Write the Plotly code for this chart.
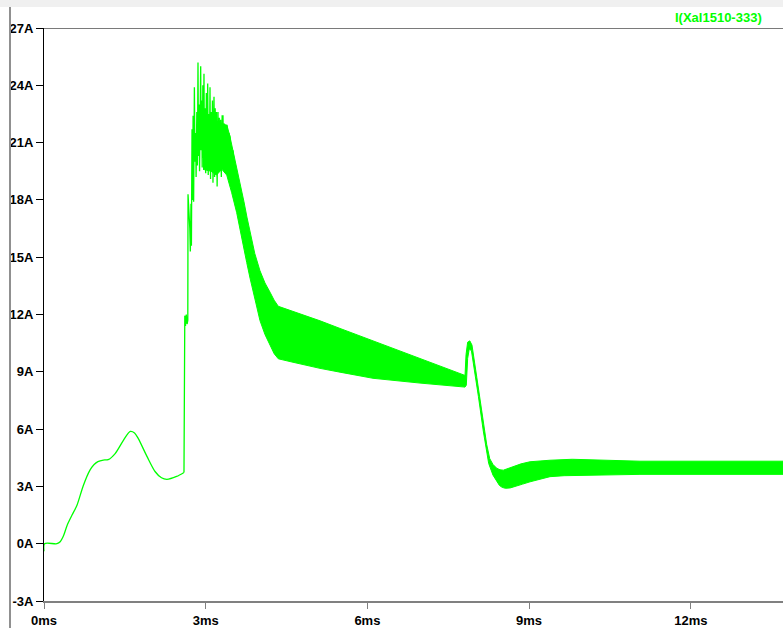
import plotly.graph_objects as go

GREEN = "#00ff00"

# Start-up current: single smooth trace up to the first switching event (ms, A)
t_start = [0.0, 0.01, 0.24, 0.30, 0.36, 0.43, 0.52, 0.61, 0.73, 0.85, 0.93, 1.0,
           1.10, 1.19, 1.32, 1.47, 1.6, 1.68, 1.75, 1.91, 2.06, 2.18, 2.28, 2.46,
           2.597]
i_start = [-0.4, 0.0, 0.0, 0.1, 0.4, 0.97, 1.5, 2.0, 3.05, 3.84, 4.15, 4.3,
           4.38, 4.4, 4.72, 5.4, 5.88, 5.8, 5.5, 4.57, 3.78, 3.45, 3.37, 3.52,
           3.73]

# Inrush spikes and ringing after the step (ms, A)
t_ring = [2.597, 2.600, 2.612, 2.625, 2.640, 2.655, 2.668, 2.672, 2.690, 2.705, 2.715,
          2.727, 2.735, 2.746, 2.757, 2.766, 2.776, 2.790, 2.800, 2.812, 2.822,
          2.835, 2.846, 2.857, 2.866, 2.876, 2.886, 2.897, 2.907, 2.915, 2.925,
          2.935, 2.947, 2.957, 2.968, 2.978, 2.990, 3.000, 3.012, 3.024, 3.037,
          3.047, 3.058, 3.068, 3.080, 3.090, 3.102, 3.112, 3.125, 3.135, 3.145,
          3.154, 3.165, 3.176, 3.188, 3.200, 3.212, 3.228, 3.240, 3.252, 3.265,
          3.278, 3.290, 3.305, 3.321, 3.333, 3.345, 3.360, 3.375, 3.395, 3.410,
          3.430, 3.451, 3.470, 3.506, 3.540, 3.581]
i_ring = [3.73, 9.85, 11.94, 11.4, 12.0, 11.5, 11.7, 18.3, 17.5, 16.5, 15.3,
          17.8, 15.6, 21.7, 18.0, 22.4, 17.9, 23.9, 20.0, 21.5, 19.2,
          22.6, 19.8, 25.2, 20.3, 23.0, 19.5, 24.3, 25.0, 20.6, 23.2,
          19.7, 24.0, 20.2, 24.6, 19.6, 22.8, 19.4, 23.6, 20.0, 24.1,
          19.3, 22.5, 19.9, 23.9, 19.1, 22.6, 19.6, 23.2, 18.9, 22.0,
          23.4, 19.2, 22.8, 19.7, 22.6, 18.7, 22.6, 19.5, 22.3, 20.0,
          22.2, 19.2, 22.4, 22.4, 19.8, 22.0, 20.3, 21.9, 21.9, 20.2,
          21.5, 21.3, 20.0, 20.6, 19.6, 19.2]

# Ripple band: upper and lower envelope of the switching ripple (ms, A)
t_upper = [2.95, 3.10, 3.20, 3.30, 3.395, 3.451, 3.506, 3.56, 3.605, 3.66, 3.71,
           3.765, 3.822, 3.91, 4.007, 4.10, 4.193, 4.27, 4.347, 4.48, 4.62, 5.121,
           5.492, 6.104, 6.976, 7.811, 7.83, 7.86, 7.90, 7.94, 8.03, 8.12, 8.213,
           8.27, 8.33, 8.40, 8.46, 8.522, 8.60, 8.70, 8.85, 9.017, 9.20, 9.388,
           9.80, 10.5, 11.057, 13.8]
i_upper = [21.0, 21.5, 21.8, 22.0, 21.9, 21.3, 20.6, 19.9, 19.4, 18.6, 17.9,
           17.1, 16.3, 15.2, 14.29, 13.65, 13.17, 12.75, 12.43, 12.3, 12.2, 11.67,
           11.27, 10.62, 9.68, 8.81, 9.9, 10.55, 10.62, 10.4, 8.7, 6.95, 5.2,
           4.45, 4.15, 3.95, 3.87, 3.85, 3.92, 4.05, 4.18, 4.29, 4.34, 4.37,
           4.42, 4.35, 4.32, 4.32]
t_lower = [2.95, 3.10, 3.20, 3.30, 3.39, 3.48, 3.575, 3.67, 3.761, 3.823, 3.883,
           3.945, 4.007, 4.10, 4.193, 4.27, 4.347, 4.48, 4.62, 5.121, 5.492,
           6.104, 6.976, 7.811, 7.835, 7.86, 7.89, 7.93, 7.98, 8.06, 8.15, 8.25,
           8.33, 8.40, 8.45, 8.50, 8.56, 8.65, 8.75, 8.88, 9.017, 9.20, 9.388,
           9.65, 9.944, 11.057, 13.8]
i_lower = [19.6, 19.5, 19.3, 19.6, 19.3, 18.4, 17.33, 16.0, 14.72, 13.9, 13.16,
           12.4, 11.68, 10.95, 10.37, 9.95, 9.68, 9.58, 9.5, 9.18, 8.98,
           8.66, 8.41, 8.2, 8.3, 9.7, 10.2, 10.1, 9.1, 7.7, 5.9, 4.2,
           3.59, 3.25, 3.05, 2.95, 2.9, 2.92, 3.0, 3.12, 3.24, 3.39, 3.51,
           3.56, 3.59, 3.63, 3.63]

# Axis tick values and their labels
x_ticks = [0, 3, 6, 9, 12]
y_ticks = list(range(-3, 28, 3))
x_labels = [f"<b>{v}ms</b>" for v in x_ticks]
y_labels = [f"<b>{v}A</b>" for v in y_ticks]

fig = go.Figure()

# Filled ripple band
fig.add_trace(go.Scatter(
    x=t_upper + t_lower[::-1],
    y=i_upper + i_lower[::-1],
    mode="lines", fill="toself", fillcolor=GREEN,
    line=dict(color=GREEN, width=1), hoverinfo="skip", showlegend=False,
))
# Smooth start-up segment
fig.add_trace(go.Scatter(
    x=t_start, y=i_start, mode="lines",
    line=dict(color=GREEN, width=1.3, shape="spline", smoothing=0.8),
    showlegend=False,
))
# Step and ringing
fig.add_trace(go.Scatter(
    x=t_ring, y=i_ring, mode="lines",
    line=dict(color=GREEN, width=1.3), showlegend=False,
))

x_max = (783 - 44) / 53.9
tick_font = dict(family="Liberation Sans", size=13, color="black")

fig.update_layout(
    width=783, height=628,
    margin=dict(l=44, r=0, t=28, b=25),
    paper_bgcolor="white", plot_bgcolor="white",
    font=dict(family="Liberation Sans", size=13, color="black"),
    xaxis=dict(
        range=[0, x_max], tickmode="array", tickvals=x_ticks, ticktext=x_labels,
        showgrid=False, zeroline=False, showline=True,
        linecolor="#808080", linewidth=2,
        ticks="outside", ticklen=6, tickcolor="#808080", tickwidth=1,
        tickfont=tick_font, fixedrange=True,
    ),
    yaxis=dict(
        range=[-3, 27], tickmode="array", tickvals=y_ticks, ticktext=y_labels,
        showgrid=False, zeroline=False, showline=True,
        linecolor="black", linewidth=1,
        ticks="outside", ticklen=7, tickcolor="black", tickwidth=1,
        tickfont=tick_font, fixedrange=True,
    ),
    shapes=[
        # light strip along the top of the window
        dict(type="rect", xref="paper", yref="paper", x0=-0.1, x1=1.01,
             y0=1 + 21 / 575, y1=1 + 29 / 575, fillcolor="#f0f0f0",
             line=dict(width=0), layer="below"),
        # window frame on the left
        dict(type="line", xref="paper", yref="paper", x0=-34 / 739, x1=-34 / 739,
             y0=1 + 21 / 575, y1=-0.06, line=dict(color="#909090", width=2)),
        # top border of the plot area
        dict(type="line", xref="paper", yref="y", x0=0, x1=1, y0=27, y1=27,
             line=dict(color="#7a7a7a", width=2)),
    ],
    annotations=[
        dict(text="<b>I(Xal1510-333)</b>", xref="paper", yref="paper",
             x=(764 - 44) / 739, y=1 + 11 / 575, xanchor="right", yanchor="middle",
             showarrow=False,
             font=dict(family="Liberation Sans", size=13, color=GREEN)),
    ],
)

fig.write_html("out.html")
